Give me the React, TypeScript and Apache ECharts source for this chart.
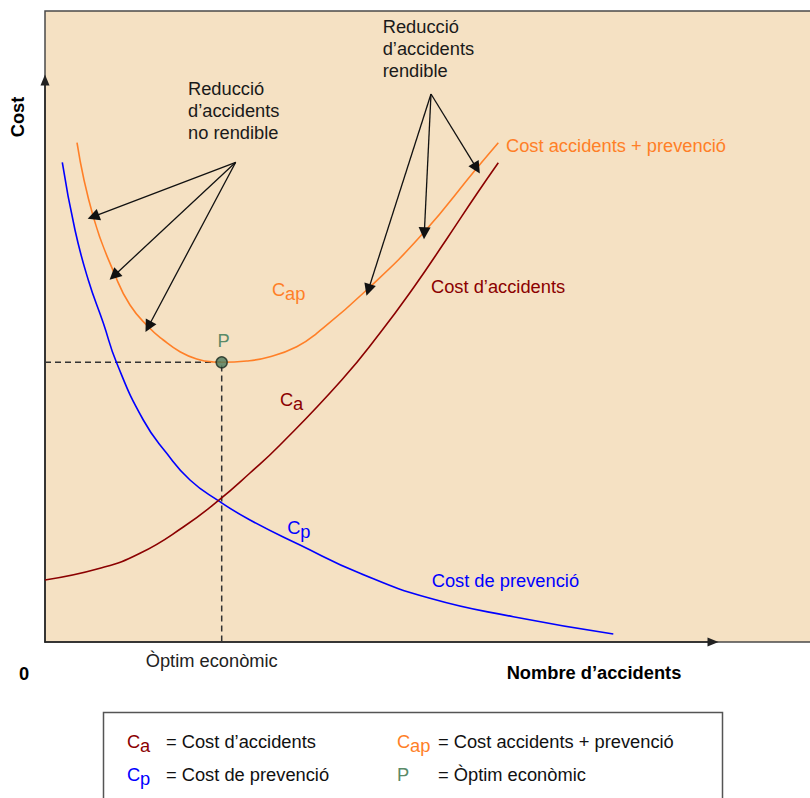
import React, { useEffect, useRef } from "react";
import * as echarts from "echarts";

// Data units: 1 unit = 10 px of the original figure (origin at the axes' corner)
const costPrevencio: number[][] = [
  [1.73, 47.97], [3.0, 41.2], [4.33, 36.2], [5.83, 31.9], [7.17, 27.9],
  [9.83, 22.2], [12.17, 18.87], [14.5, 16.2], [17.33, 14.13],
  [20.5, 12.2], [25.5, 9.7], [31.5, 6.87], [38.5, 4.37], [46.83, 2.53], [56.83, 0.8],
];
const costAccidents: number[][] = [
  [0, 6.2], [5.5, 7.37], [9.5, 8.87], [13.83, 11.5], [17.33, 14.13], [20.5, 16.9],
  [23.5, 19.7], [29.67, 26.2], [33.5, 30.9], [36.83, 35.4], [40.17, 40.3],
  [43.17, 44.8], [45.33, 47.93],
];
const costTotal: number[][] = [
  [3.2, 49.93], [4.83, 42.53], [7.0, 36.7], [8.5, 33.7], [10.33, 31.53],
  [11.83, 30.2], [13.5, 29.03], [15.17, 28.3], [16.83, 28.0], [17.67, 27.97],
  [20.17, 28.1], [22.5, 28.53], [25.17, 29.53], [27.17, 30.87],
  [32.17, 35.2], [37.83, 40.9], [43.17, 47.37], [45.33, 49.93],
];
const optim: number[] = [17.67, 27.97];
const arrowNoRendibleFrom: number[] = [19.07, 47.97];
const arrowNoRendibleTo: number[][] = [[4.83, 42.53], [6.9, 36.63], [10.33, 31.53]];
const arrowRendibleFrom: number[] = [38.6, 54.8];
const arrowRendibleTo: number[][] = [[32.33, 35.2], [37.93, 40.87], [43.17, 47.37]];

const xMax = 66.8;
const yMax = 56.2;

const FONT = '"Liberation Sans", Arial, Helvetica, sans-serif';
const BLUE = "#0000FF";
const RED = "#8B0000";
const ORANGE = "#FF7F27";
const GREEN = "#5A8A68";

function txt(x: number, y: number, text: string, fill: string, opts: any = {}) {
  return {
    type: "text",
    x,
    y,
    rotation: opts.rotation || 0,
    z: 20,
    style: {
      text,
      fill,
      font: `${opts.bold ? "bold " : ""}${opts.size || 18.3}px ${FONT}`,
      align: opts.align || "left",
      verticalAlign: "middle",
      lineHeight: opts.lineHeight || 22,
    },
  };
}

function sub(x: number, y: number, sb: string, color: string) {
  return [txt(x, y, "C", color), txt(x + 13, y + 4, sb, color)];
}

export default function App() {
  const ref = useRef<HTMLDivElement>(null);
  useEffect(() => {
    if (!ref.current) return;
    const chart = echarts.init(ref.current, null, { renderer: "svg" });
    const arrowData = [
      ...arrowNoRendibleTo.map((t) => ({ coords: [arrowNoRendibleFrom, t] })),
      ...arrowRendibleTo.map((t) => ({ coords: [arrowRendibleFrom, t] })),
    ];
    const curve = (data: number[][], color: string) => ({
      type: "line", data, smooth: 0.5, showSymbol: false, clip: false,
      lineStyle: { color, width: 1.6 },
    });
    const option: any = {
      animation: false,
      grid: { left: 45, right: 97, top: 80, bottom: 156, containLabel: false },
      xAxis: {
        type: "value", min: 0, max: xMax,
        axisLine: { show: true, symbol: ["none", "triangle"], symbolSize: [9, 11], lineStyle: { color: "#222", width: 1.5 } },
        axisTick: { show: false }, axisLabel: { show: false }, splitLine: { show: false },
      },
      yAxis: {
        type: "value", min: 0, max: yMax,
        axisLine: { show: true, symbol: ["none", "triangle"], symbolSize: [9, 11], lineStyle: { color: "#222", width: 1.5 } },
        axisTick: { show: false }, axisLabel: { show: false }, splitLine: { show: false },
      },
      series: [
        {
          type: "line", data: [[0, optim[1]], optim, [optim[0], 0]], showSymbol: false, z: 1,
          lineStyle: { color: "#333", width: 1.5, type: [6, 4] }, clip: false,
        },
        curve(costPrevencio, BLUE),
        curve(costAccidents, RED),
        curve(costTotal, ORANGE),
        {
          type: "lines", coordinateSystem: "cartesian2d", data: arrowData, z: 6,
          symbol: ["none", "triangle"], symbolSize: [9, 12],
          lineStyle: { color: "#111", width: 1.3, opacity: 1 }, clip: false,
        },
        {
          type: "scatter", data: [optim], symbol: "circle", symbolSize: 11, z: 8, clip: false,
          itemStyle: { color: "#4E7A5C", borderColor: "#1B2A20", borderWidth: 1.5 },
        },
      ],
    };
    chart.setOption(option);
    const px = (p: number[]) => chart.convertToPixel({ gridIndex: 0 }, p) as number[];

    const a = px([14.3, 53.2]);
    const b = px([33.77, 59.37]);
    const c = px([46.1, 49.7]);
    const d = px([38.6, 35.6]);
    const e = px([38.67, 6.2]);
    const cap = px([22.7, 35.3]);
    const ca = px([23.5, 24.3]);
    const cp = px([24.23, 11.5]);
    const pl = px([optim[0] + 0.2, optim[1] + 2.2]);
    const ox = px([optim[0], 0]);

    const graphic: any[] = [
      {
        type: "rect", z: -10, silent: true,
        shape: { x: 45, y: 11, width: 772, height: 631 },
        style: { fill: "#F5E1C3", stroke: "#4A4A4A", lineWidth: 1.5 },
      },
      txt(a[0], a[1], "Reducció\nd’accidents\nno rendible", "#1A1A1A"),
      txt(b[0], b[1], "Reducció\nd’accidents\nrendible", "#1A1A1A"),
      txt(c[0], c[1], "Cost accidents + prevenció", ORANGE),
      txt(d[0], d[1], "Cost d’accidents", RED),
      txt(e[0], e[1], "Cost de prevenció", BLUE),
      ...sub(cap[0], cap[1], "ap", ORANGE),
      ...sub(ca[0], ca[1], "a", RED),
      ...sub(cp[0], cp[1], "p", BLUE),
      txt(pl[0], pl[1], "P", GREEN, { align: "center" }),
      txt(ox[0] - 10, 660, "Òptim econòmic", "#222", { align: "center" }),
      txt(17, 117, "Cost", "#000", { bold: true, rotation: Math.PI / 2, align: "center" }),
      txt(24, 673, "0", "#000", { bold: true, align: "center" }),
      txt(594, 672, "Nombre d’accidents", "#000", { bold: true, align: "center" }),
      {
        type: "rect", z: -5, silent: true,
        shape: { x: 103.5, y: 712.5, width: 619, height: 100 },
        style: { fill: "#FFFFFF", stroke: "#555", lineWidth: 1.5 },
      },
      ...sub(127, 741, "a", RED),
      txt(166, 741, "= Cost d’accidents", "#111"),
      ...sub(397, 741, "ap", ORANGE),
      txt(438, 741, "= Cost accidents + prevenció", "#111"),
      ...sub(127, 774, "p", BLUE),
      txt(166, 774, "= Cost de prevenció", "#111"),
      txt(397, 774, "P", GREEN),
      txt(438, 774, "= Òptim econòmic", "#111"),
    ];
    chart.setOption({ graphic });
    return () => chart.dispose();
  }, []);
  return (
    <div
      ref={ref}
      style={{ position: "fixed", left: 0, top: 0, width: 810, height: 798, background: "#fff" }}
    />
  );
}
